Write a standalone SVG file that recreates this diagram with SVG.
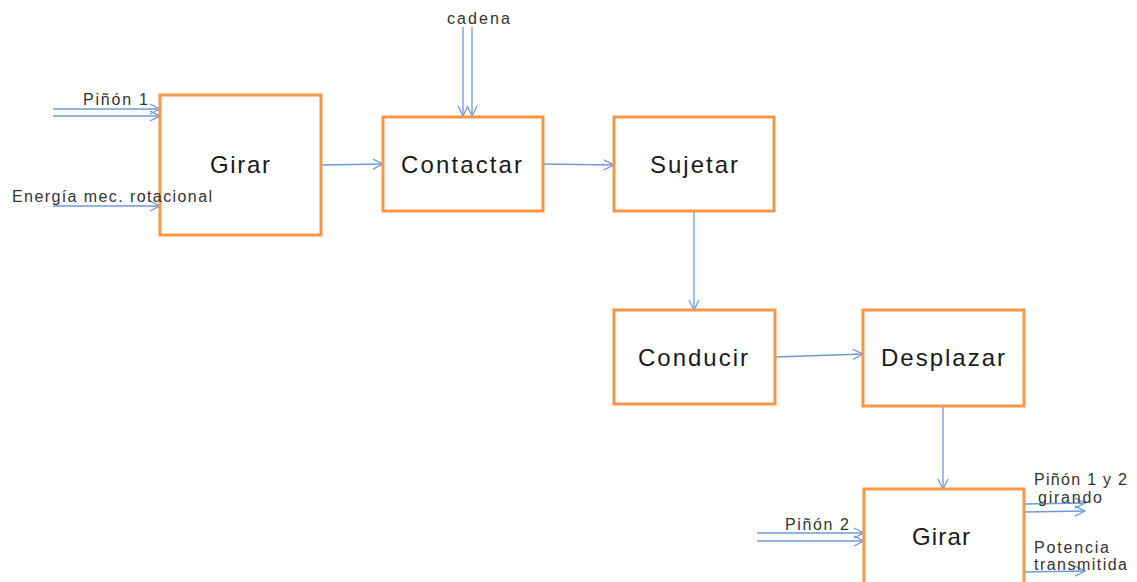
<svg xmlns="http://www.w3.org/2000/svg" width="1137" height="582" viewBox="0 0 1137 582">
<style>
.box{fill:#fff;stroke:#f79646;stroke-width:3}
.lbl{font-family:"Liberation Sans",Arial,sans-serif;font-size:24px;fill:#1a1a1a}
.sm{font-family:"Liberation Sans",Arial,sans-serif;font-size:16px;fill:#333}
.c{stroke:#6f9bd6;stroke-width:1.3;fill:none;marker-end:url(#a)}
</style>
<defs>
<marker id="a" viewBox="0 0 12 12" refX="11" refY="6" markerWidth="12" markerHeight="12" markerUnits="userSpaceOnUse" orient="auto">
<path d="M1,1 L11,6 L1,11" fill="none" stroke="#6f9bd6" stroke-width="1.3"/>
</marker>
</defs>
<rect width="1137" height="582" fill="#fff"/>
<g id="connectors">
<line class="c" x1="53" y1="109" x2="160" y2="109"/>
<line class="c" x1="53" y1="116" x2="160" y2="116"/>
<line class="c" x1="53" y1="206" x2="160" y2="206"/>
<line class="c" x1="321" y1="165" x2="383" y2="164"/>
<line class="c" x1="463" y1="27" x2="463" y2="116"/>
<line class="c" x1="472" y1="27" x2="472" y2="116"/>
<line class="c" x1="543" y1="164" x2="614" y2="165"/>
<line class="c" x1="694" y1="211" x2="694" y2="310"/>
<line class="c" x1="775" y1="357" x2="863" y2="354"/>
<line class="c" x1="943" y1="407" x2="943" y2="489"/>
<line class="c" x1="757" y1="533" x2="864" y2="533"/>
<line class="c" x1="757" y1="541" x2="864" y2="541"/>
<line class="c" x1="1024" y1="504" x2="1085" y2="503"/>
<line class="c" x1="1024" y1="512" x2="1085" y2="511"/>
<line class="c" x1="1024" y1="572" x2="1085" y2="571"/>
</g>
<g id="girar1"><rect class="box" x="160" y="95" width="161" height="140"/><text class="lbl" x="210" y="173" textLength="60" lengthAdjust="spacing">Girar</text></g>
<g id="contactar"><rect class="box" x="383" y="117" width="160" height="94"/><text class="lbl" x="401" y="173" textLength="121" lengthAdjust="spacing">Contactar</text></g>
<g id="sujetar"><rect class="box" x="614" y="117" width="160" height="94"/><text class="lbl" x="650" y="173" textLength="88" lengthAdjust="spacing">Sujetar</text></g>
<g id="conducir"><rect class="box" x="614" y="310" width="161" height="94"/><text class="lbl" x="638" y="366" textLength="110" lengthAdjust="spacing">Conducir</text></g>
<g id="desplazar"><rect class="box" x="863" y="310" width="161" height="96"/><text class="lbl" x="881" y="366" textLength="124" lengthAdjust="spacing">Desplazar</text></g>
<g id="girar2"><rect class="box" x="864" y="489" width="160" height="100"/><text class="lbl" x="912" y="545" textLength="58" lengthAdjust="spacing">Girar</text></g>
<g id="labels">
<text class="sm" x="83" y="105" textLength="65" lengthAdjust="spacing">Piñón 1</text>
<text class="sm" x="12" y="202" textLength="200" lengthAdjust="spacing">Energía mec. rotacional</text>
<text class="sm" x="447" y="24" textLength="63" lengthAdjust="spacing">cadena</text>
<text class="sm" x="785" y="530" textLength="64" lengthAdjust="spacing">Piñón 2</text>
<text class="sm" x="1034" y="485" textLength="93" lengthAdjust="spacing">Piñón 1 y 2</text>
<text class="sm" x="1038" y="503" textLength="64" lengthAdjust="spacing">girando</text>
<text class="sm" x="1034" y="553" textLength="75" lengthAdjust="spacing">Potencia</text>
<text class="sm" x="1034" y="570" textLength="93" lengthAdjust="spacing">transmitida</text>
</g>
</svg>
